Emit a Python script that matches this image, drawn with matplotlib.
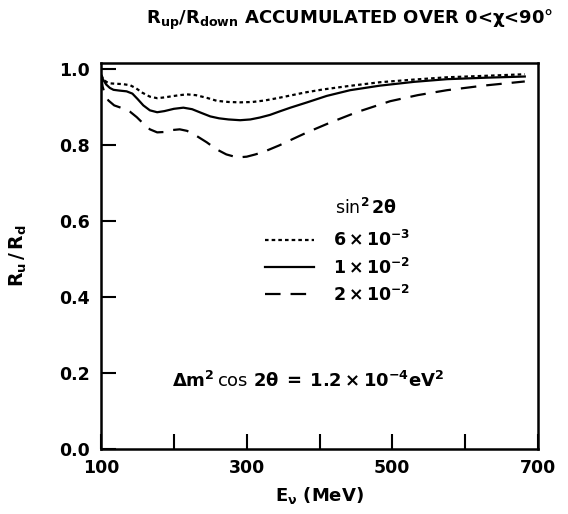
import matplotlib
matplotlib.use("Agg")
import matplotlib.pyplot as plt

plt.rcParams['font.family'] = ['DejaVu Sans']
plt.rcParams['mathtext.fontset'] = 'dejavusans'

# Energies (MeV) and R_u/R_d
e_dot = [100, 103, 107, 112, 120, 130, 140, 148, 157, 167, 177, 187, 197, 208, 218, 230, 245, 259, 275, 291, 308, 325, 342, 360, 380, 405, 440, 483, 530, 575, 630, 682]
r_dot = [0.985, 0.975, 0.967, 0.963, 0.962, 0.961, 0.958, 0.950, 0.938, 0.928, 0.924, 0.926, 0.929, 0.932, 0.934, 0.932, 0.925, 0.917, 0.914, 0.913, 0.914, 0.918, 0.924, 0.931, 0.939, 0.947, 0.956, 0.966, 0.973, 0.979, 0.983, 0.987]

e_sol = [100, 103, 107, 112, 117, 125, 135, 143, 150, 158, 167, 177, 187, 200, 213, 225, 238, 250, 262, 275, 291, 305, 318, 332, 345, 360, 383, 410, 442, 483, 530, 575, 630, 682]
r_sol = [0.985, 0.972, 0.960, 0.951, 0.946, 0.944, 0.942, 0.936, 0.922, 0.905, 0.892, 0.887, 0.890, 0.896, 0.899, 0.895, 0.885, 0.876, 0.871, 0.868, 0.866, 0.868, 0.873, 0.880, 0.889, 0.899, 0.913, 0.930, 0.945, 0.957, 0.967, 0.974, 0.978, 0.981]

e_dash = [100, 102, 105, 110, 118, 130, 140, 149, 158, 167, 177, 187, 197, 208, 218, 230, 245, 258, 272, 287, 300, 312, 325, 345, 365, 383, 415, 451, 497, 535, 575, 625, 682]
r_dash = [0.985, 0.955, 0.935, 0.918, 0.905, 0.897, 0.888, 0.874, 0.857, 0.842, 0.834, 0.835, 0.840, 0.842, 0.838, 0.826, 0.808, 0.790, 0.776, 0.768, 0.770, 0.776, 0.784, 0.800, 0.818, 0.834, 0.860, 0.887, 0.916, 0.932, 0.945, 0.957, 0.968]

labels = [r'$\mathbf{6\times10^{-3}}$', r'$\mathbf{1\times10^{-2}}$', r'$\mathbf{2\times10^{-2}}$']
xticks = [100, 200, 300, 400, 500, 600, 700]
xticklabels = ['100', '', '300', '', '500', '', '700']
yticks = [0.0, 0.2, 0.4, 0.6, 0.8, 1.0]
yticklabels = ['0.0', '0.2', '0.4', '0.6', '0.8', '1.0']

fig = plt.figure(figsize=(5.68, 5.14), dpi=100)
ax = fig.add_axes([0.178, 0.126, 0.769, 0.751])

lw = 1.6
ax.plot(e_dot, r_dot, color='black', lw=lw, linestyle=(0, (1.6, 1.4)), label=labels[0])
ax.plot(e_sol, r_sol, color='black', lw=lw, linestyle='-', label=labels[1])
ax.plot(e_dash, r_dash, color='black', lw=lw, linestyle=(0, (7, 4.5)), label=labels[2])

ax.set_xlim(100, 700)
ax.set_ylim(0.0, 1.016)
ax.set_xticks(xticks)
ax.set_xticklabels(xticklabels, fontsize=12.5, fontweight='bold')
ax.set_yticks(yticks)
ax.set_yticklabels(yticklabels, fontsize=12.5, fontweight='bold')
ax.tick_params(direction='in', length=11, width=1.5, pad=8)
ax.tick_params(axis='x', pad=7)
for s in ax.spines.values():
    s.set_linewidth(1.8)

leg = ax.legend(loc='upper left', bbox_to_anchor=(0.36, 0.585), frameon=False,
                fontsize=12.5, handlelength=2.8, handletextpad=1.1, labelspacing=0.4,
                borderaxespad=0)
ax.text(0.535, 0.625, r'$\mathbf{\sin^2 2\theta}$', transform=ax.transAxes, fontsize=12.5,
        ha='left', va='center')
ax.text(0.475, 0.177, r'$\mathbf{\Delta m^2\,\cos\,2\theta\;=\;1.2\times10^{-4}eV^2}$',
        transform=ax.transAxes, fontsize=13, ha='center', va='center')

ax.set_xlabel(r'$\mathbf{E_{\nu}}$ (MeV)', fontsize=13, fontweight='bold', labelpad=6)
ax.set_ylabel(r'$\mathbf{R_u\,/\,R_d}$', fontsize=13.5, fontweight='bold', labelpad=22)

fig.text(0.615, 0.962, r'$\mathbf{R_{up}/R_{down}}$ ACCUMULATED OVER 0<$\mathbf{\chi}$<90°',
         fontsize=13, fontweight='bold', ha='center', va='center')

fig.savefig('out.png', dpi=100)
